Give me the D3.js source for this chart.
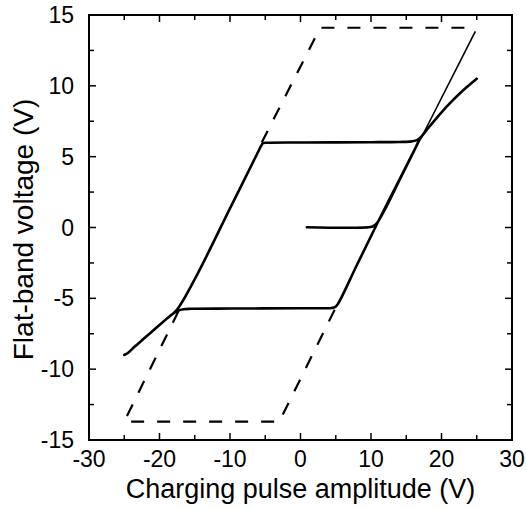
<!DOCTYPE html>
<html>
<head>
<meta charset="utf-8">
<script src="https://cdn.jsdelivr.net/npm/d3@7"></script>
<style>
  body { margin: 0; background: #fff; }
  text { font-family: "Liberation Sans", Arial, sans-serif; fill: #000; }
</style>
</head>
<body>
<div id="chart"></div>
<script>
var width = 526,
    height = 509,
    margin = {top: 15, right: 14, bottom: 69, left: 89};

// measured hysteresis loop (solid), in order of the sweep
var loopX = [0.9, 10.1, 10.5, 10.9, 12, 14, 16, 17, 18, 19, 21, 23, 25,
             23, 21, 19, 18, 17.2, 16.6, 15.8, 14, 10, 0, -4.8, -5.3, -5.6, -5.9,
             -10, -15, -17.6, -19, -20.5, -22, -23.5, -24.4, -25,
             -24.4, -23.5, -22, -20.5, -19, -18.2, -17.4, -16.6, -15.5, -10, 0, 4.4, 4.9, 5.3,
             8, 10.9, 14, 17];
var loopV = [0.02, 0.05, 0.15, 0.35, 1.3, 3.3, 5.3, 6.3, 6.95, 7.55, 8.67, 9.65, 10.5,
             9.65, 8.67, 7.55, 6.95, 6.45, 6.18, 6.08, 6.04, 6.02, 6.0, 5.98, 5.95, 5.75, 5.45,
             1.35, -3.65, -5.85, -6.45, -7.1, -7.75, -8.4, -8.82, -9.0,
             -8.82, -8.4, -7.75, -7.1, -6.45, -6.12, -5.88, -5.77, -5.74, -5.72, -5.7, -5.68, -5.62, -5.4,
             -2.65, 0.3, 3.35, 6.3];

// dashed limits of the window
var lowX = [-17.3, -25, -3.0, 5.0];
var lowV = [-5.9, -13.7, -13.7, -5.65];
var upX = [-5.5, 2.8, 24.2, 24.8];
var upV = [6.0, 14.1, 14.1, 13.85];
// thin right edge of the window
var edgeX = [24.8, 17.1];
var edgeV = [13.85, 6.3];

var xTicks = [-30, -20, -10, 0, 10, 20, 30];
var yTicks = [-15, -10, -5, 0, 5, 10, 15];

var w = width - margin.left - margin.right,
    h = height - margin.top - margin.bottom;

var x = d3.scaleLinear().domain([-30, 30]).range([0, w]);
var y = d3.scaleLinear().domain([-15, 15]).range([h, 0]);

var svg = d3.select("#chart").append("svg")
  .attr("width", width)
  .attr("height", height)
  .append("g")
  .attr("transform", "translate(" + margin.left + "," + margin.top + ")");

var line = d3.line()
  .x(function(d) { return x(d[0]); })
  .y(function(d) { return y(d[1]); });

function pts(xs, vs) {
  return xs.map(function(v, i) { return [v, vs[i]]; });
}

svg.append("path")
  .datum(pts(lowX, lowV))
  .attr("d", line)
  .style("fill", "none")
  .style("stroke", "#000")
  .style("stroke-width", 2.2)
  .style("stroke-dasharray", "13,13");

svg.append("path")
  .datum(pts(upX, upV))
  .attr("d", line)
  .style("fill", "none")
  .style("stroke", "#000")
  .style("stroke-width", 2.2)
  .style("stroke-dasharray", "13,13");

svg.append("path")
  .datum(pts(edgeX, edgeV))
  .attr("d", line)
  .style("fill", "none")
  .style("stroke", "#000")
  .style("stroke-width", 1.6);

svg.append("path")
  .datum(pts(loopX, loopV))
  .attr("d", line.curve(d3.curveCatmullRom.alpha(0.5)))
  .style("fill", "none")
  .style("stroke", "#000")
  .style("stroke-width", 2.6)
  .style("stroke-linejoin", "round")
  .style("stroke-linecap", "round");

// frame
svg.append("rect")
  .attr("width", w)
  .attr("height", h)
  .style("fill", "none")
  .style("stroke", "#000")
  .style("stroke-width", 2);

// inward ticks on all four sides
var xMinor = d3.range(-25, 30, 10), yMinor = d3.range(-12.5, 15, 5);
function ticks(vals, len) {
  vals.forEach(function(v) {
    [[x(v), h, x(v), h - len], [x(v), 0, x(v), len]].forEach(function(s) {
      svg.append("line").attr("x1", s[0]).attr("y1", s[1]).attr("x2", s[2]).attr("y2", s[3])
        .style("stroke", "#000").style("stroke-width", 1.5);
    });
  });
}
function yticks(vals, len) {
  vals.forEach(function(v) {
    [[0, y(v), len, y(v)], [w, y(v), w - len, y(v)]].forEach(function(s) {
      svg.append("line").attr("x1", s[0]).attr("y1", s[1]).attr("x2", s[2]).attr("y2", s[3])
        .style("stroke", "#000").style("stroke-width", 1.5);
    });
  });
}
ticks(xTicks, 7); ticks(xMinor, 5);
yticks(yTicks, 7); yticks(yMinor, 5);

svg.selectAll(".xl")
  .data(xTicks)
  .enter().append("text")
  .attr("x", function(d) { return x(d); })
  .attr("y", h + 27)
  .style("text-anchor", "middle")
  .style("font-size", "23px")
  .text(function(d) { return d; });

svg.selectAll(".yl")
  .data(yTicks)
  .enter().append("text")
  .attr("x", -15)
  .attr("y", function(d) { return y(d) + 8; })
  .style("text-anchor", "end")
  .style("font-size", "23px")
  .text(function(d) { return d; });

svg.append("text")
  .attr("x", w / 2)
  .attr("y", h + 58)
  .style("text-anchor", "middle")
  .style("font-size", "27px")
  .text("Charging pulse amplitude (V)");

svg.append("text")
  .attr("transform", "translate(-56," + (h / 2 + 2) + ") rotate(-90)")
  .style("text-anchor", "middle")
  .style("font-size", "28px")
  .text("Flat-band voltage (V)");
</script>
</body>
</html>
